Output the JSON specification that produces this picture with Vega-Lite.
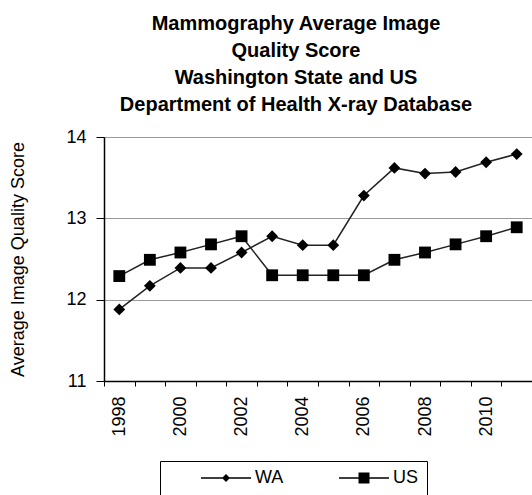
{
  "$schema": "https://vega.github.io/schema/vega-lite/v6.json",
  "width": 428,
  "height": 244,
  "autosize": {"type": "none"},
  "padding": {"left": 104, "top": 137, "right": 0, "bottom": 114},
  "background": "white",
  "title": {
    "text": ["Mammography Average Image", "Quality Score", "Washington State and US", "Department of Health X-ray Database"],
    "font": "Liberation Sans",
    "fontSize": 20,
    "fontWeight": "bold",
    "color": "black",
    "lineHeight": 27,
    "anchor": "middle",
    "frame": "group",
    "dx": -22,
    "offset": 13
  },
  "config": {
    "view": {"stroke": null},
    "font": "Liberation Sans"
  },
  "data": {
    "values": [
      {"year": 1998, "series": "WA", "value": 11.88},
      {"year": 1999, "series": "WA", "value": 12.17},
      {"year": 2000, "series": "WA", "value": 12.39},
      {"year": 2001, "series": "WA", "value": 12.39},
      {"year": 2002, "series": "WA", "value": 12.58},
      {"year": 2003, "series": "WA", "value": 12.78},
      {"year": 2004, "series": "WA", "value": 12.67},
      {"year": 2005, "series": "WA", "value": 12.67},
      {"year": 2006, "series": "WA", "value": 13.28},
      {"year": 2007, "series": "WA", "value": 13.62},
      {"year": 2008, "series": "WA", "value": 13.55},
      {"year": 2009, "series": "WA", "value": 13.57},
      {"year": 2010, "series": "WA", "value": 13.69},
      {"year": 2011, "series": "WA", "value": 13.79},
      {"year": 1998, "series": "US", "value": 12.29},
      {"year": 1999, "series": "US", "value": 12.49},
      {"year": 2000, "series": "US", "value": 12.58},
      {"year": 2001, "series": "US", "value": 12.68},
      {"year": 2002, "series": "US", "value": 12.78},
      {"year": 2003, "series": "US", "value": 12.3},
      {"year": 2004, "series": "US", "value": 12.3},
      {"year": 2005, "series": "US", "value": 12.3},
      {"year": 2006, "series": "US", "value": 12.3},
      {"year": 2007, "series": "US", "value": 12.49},
      {"year": 2008, "series": "US", "value": 12.58},
      {"year": 2009, "series": "US", "value": 12.68},
      {"year": 2010, "series": "US", "value": 12.78},
      {"year": 2011, "series": "US", "value": 12.89}
    ]
  },
  "encoding": {
    "x": {
      "field": "year",
      "type": "ordinal",
      "scale": {"type": "band", "paddingInner": 0, "paddingOuter": 0},
      "axis": {
        "title": null,
        "labelAngle": -90,
        "labelExpr": "datum.value % 2 == 0 ? datum.label : ''",
        "labelOverlap": false,
        "labelFont": "Liberation Sans",
        "labelFontSize": 18,
        "labelColor": "black",
        "labelPadding": 10,
        "tickBand": "extent",
        "tickSize": 5,
        "tickColor": "black",
        "domainColor": "black",
        "domainWidth": 1.5,
        "grid": false
      }
    },
    "y": {
      "field": "value",
      "type": "quantitative",
      "scale": {"domain": [11, 14], "nice": false, "zero": false},
      "axis": {
        "title": "Average Image Quality Score",
        "titleFont": "Liberation Sans",
        "titleFontSize": 18,
        "titleFontWeight": "normal",
        "titleColor": "black",
        "titlePadding": 38,
        "values": [11, 12, 13, 14],
        "labelFont": "Liberation Sans",
        "labelFontSize": 18,
        "labelColor": "black",
        "labelPadding": 10,
        "tickSize": 8,
        "tickColor": "black",
        "domainColor": "black",
        "domainWidth": 1.5,
        "grid": true,
        "gridColor": "#9a9a9a",
        "gridWidth": 1
      }
    }
  },
  "resolve": {"scale": {"shape": "independent"}, "legend": {"shape": "independent"}},
  "layer": [
    {
      "mark": {"type": "line", "color": "#222222", "strokeWidth": 1.5},
      "encoding": {"detail": {"field": "series"}}
    },
    {
      "mark": {"type": "point", "filled": true, "color": "black", "opacity": 1, "size": 140},
      "encoding": {
        "shape": {
          "field": "series",
          "type": "nominal",
          "scale": {"domain": ["WA", "US"], "range": ["diamond", "square"]},
          "legend": null
        }
      }
    },
    {
      "mark": {"type": "point", "filled": true, "color": "black", "opacity": 0, "size": 100},
      "encoding": {
        "shape": {
          "field": "series",
          "type": "nominal",
          "scale": {"domain": ["WA", "US"], "range": ["M-1,-0.15L9,-0.15L9,0.15L-1,0.15ZM4,-0.8L4.8,0L4,0.8L3.2,0Z", "M-1,-0.15L9,-0.15L9,0.15L-1,0.15ZM2.9,-1.1L5.1,-1.1L5.1,1.1L2.9,1.1Z"]},
          "legend": {
            "title": null,
            "orient": "none",
            "legendX": 56,
            "legendY": 324,
            "direction": "horizontal",
            "strokeColor": "black",
            "padding": 8,
            "symbolOffset": 29,
            "symbolSize": 100,
            "symbolOpacity": 1,
            "symbolFillColor": "black",
            "symbolStrokeColor": "black",
            "symbolStrokeWidth": 1,
            "labelOffset": 40,
            "columnPadding": 22,
            "labelFont": "Liberation Sans",
            "labelFontSize": 18,
            "labelColor": "black",
            "encode": {
              "symbols": {
                "stroke": {"value": "black"},
                "strokeWidth": {"value": 0.5},
                "fill": {"value": "black"}
              }
            }
          }
        }
      }
    }
  ]
}
